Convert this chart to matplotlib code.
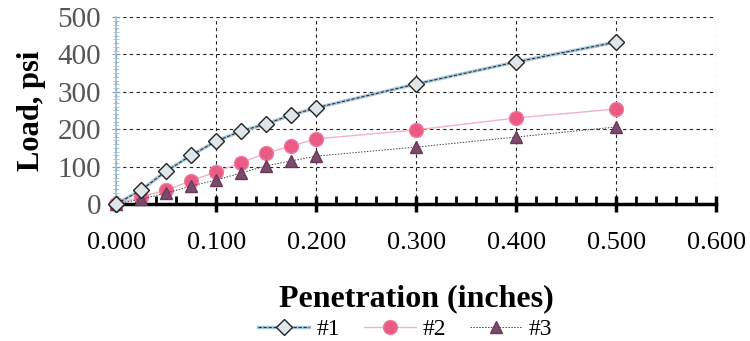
import numpy as np
import matplotlib.pyplot as plt
from matplotlib.ticker import MultipleLocator
from matplotlib import rcParams
rcParams['font.family'] = 'serif'
rcParams['font.serif'] = ['Liberation Serif']
rcParams['font.size'] = 13

pen = [0, 0.025, 0.05, 0.075, 0.1, 0.125, 0.15, 0.175, 0.2, 0.3, 0.4, 0.5]
load1 = [0, 37, 88, 130, 168, 195, 214, 238, 257, 321, 380, 433]
load2 = [0, 19, 37, 62, 86, 110, 136, 155, 174, 198, 230, 254]
load3 = [0, 13, 29, 48, 64, 83, 102, 115, 128, 152, 179, 206]

fig = plt.figure(figsize=(7.5, 3.41), dpi=100)
ax = fig.add_axes([0.155, 0.402, 0.8, 0.548])

# series 1: light blue line with dark dashes over it
l1a, = ax.plot(pen, load1, color='#a9c9de', linewidth=2.5, clip_on=False)
l1b, = ax.plot(pen, load1, color='#333333', linewidth=0.8, linestyle=(0, (3, 1.5)),
               marker='D', markersize=8.5, markerfacecolor='#dfe6ea',
               markeredgecolor='#222222', markeredgewidth=1, clip_on=False, zorder=4)
l2, = ax.plot(pen, load2, color='#f2b3c2', linewidth=1,
              marker='o', markersize=10, markerfacecolor='#ea5a84',
              markeredgecolor='#f07a9a', clip_on=False, zorder=3)
l3, = ax.plot(pen, load3, color='#444444', linewidth=0.7, linestyle=(0, (1.5, 1.5)),
              marker='^', markersize=9, markerfacecolor='#7b4a6c',
              markeredgecolor='#6a3a5a', clip_on=False, zorder=3)

ax.set_xlim(0, 0.6)
ax.set_ylim(0, 500)
ax.xaxis.set_major_locator(MultipleLocator(0.1))
ax.xaxis.set_minor_locator(MultipleLocator(0.02))
ax.yaxis.set_major_locator(MultipleLocator(100))
ax.yaxis.set_minor_locator(MultipleLocator(10))
ax.xaxis.set_major_formatter(lambda v, p: '{:.3f}'.format(v))

ax.grid(True, which='major', color='#222222', linestyle=(0, (3, 3)), linewidth=0.8)
for s in ['top', 'right']:
    ax.spines[s].set_visible(False)
ax.spines['bottom'].set_linewidth(2.5)
ax.spines['left'].set_color('#9fbfd4')
ax.spines['left'].set_linewidth(1.2)

ax.tick_params(axis='x', which='major', direction='inout', length=12, width=2.5, pad=14, labelsize=19)
ax.tick_params(axis='x', which='minor', direction='in', length=6, width=2)
ax.tick_params(axis='y', which='major', direction='inout', length=6, color='#7fa0b8', labelsize=21,
               labelcolor='#555555', pad=8)
ax.tick_params(axis='y', which='minor', direction='inout', length=4, color='#9fbfd4')

ax.set_ylabel('Load, psi', fontsize=22, fontweight='bold', labelpad=8)
ax.set_xlabel('Penetration (inches)', fontsize=23, fontweight='bold', labelpad=22)

fig.legend([(l1a, l1b), l2, l3], ['#1', '#2', '#3'], loc='lower center',
           bbox_to_anchor=(0.54, -0.06), ncol=3, frameon=False, fontsize=17,
           handlelength=2.2, columnspacing=1.0, handletextpad=0.3)

plt.savefig('out.png', dpi=100, facecolor='w')
